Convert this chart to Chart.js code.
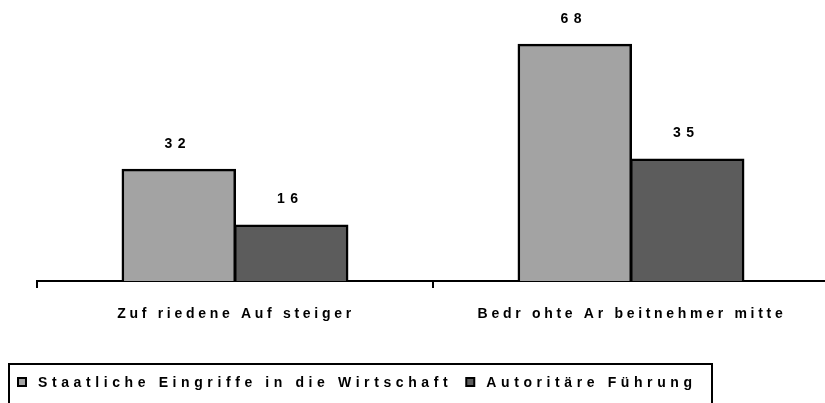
<!DOCTYPE html>
<html>
<head>
<meta charset="utf-8">
<script src="https://cdn.jsdelivr.net/npm/chart.js@4.4.1/dist/chart.umd.min.js"></script>
<style>
  html, body { margin: 0; padding: 0; background: #fff; overflow: hidden; }
  #wrap { position: relative; width: 833px; height: 403px; }
</style>
</head>
<body>
<div id="wrap"><canvas id="c"></canvas></div>
<script>
const categories = ["Zuf riedene Auf steiger", "Bedr ohte Ar beitnehmer mitte"];
const seriesNames = ["Staatliche Eingriffe in die Wirtschaft", "Autoritäre Führung"];
const seriesStaat = [32, 68];
const seriesAutor = [16, 35];
const seriesColors = ["#a3a3a3", "#5c5c5c"];

const FONT = '"Liberation Sans", Arial, sans-serif';

const textPlugin = {
  id: 'textPlugin',
  afterDraw(chart) {
    const ctx = chart.ctx;
    const xs = chart.scales.x;
    ctx.save();
    ctx.fillStyle = '#000';
    ctx.textAlign = 'center';
    ctx.textBaseline = 'alphabetic';
    // data labels
    ctx.font = 'bold 14px ' + FONT;
    ctx.letterSpacing = '5.5px';
    chart.data.datasets.forEach((ds, di) => {
      const meta = chart.getDatasetMeta(di);
      meta.data.forEach((bar, i) => {
        ctx.fillText(String(ds.data[i]), bar.x - 1, bar.y - 22);
      });
    });
    // category labels
    ctx.font = 'bold 14px ' + FONT;
    ctx.letterSpacing = '3.7px';
    chart.data.labels.forEach((lab, i) => {
      const x = xs.getPixelForValue(i);
      ctx.fillText(lab, x + 1, 318);
    });
    // legend
    ctx.lineWidth = 2;
    ctx.strokeStyle = '#000';
    ctx.strokeRect(9, 364, 703, 60);
    ctx.font = 'bold 14px ' + FONT;
    ctx.letterSpacing = '4.6px';
    ctx.textAlign = 'left';
    let x = 18;
    chart.data.datasets.forEach((ds, di) => {
      ctx.fillStyle = ds.backgroundColor;
      ctx.fillRect(x, 378, 8, 8);
      ctx.strokeStyle = '#000';
      ctx.lineWidth = 2;
      ctx.strokeRect(x, 378, 8, 8);
      ctx.fillStyle = '#000';
      ctx.fillText(ds.label, x + 20, 387);
      x += 20 + ctx.measureText(ds.label).width + 14;
    });
    ctx.restore();
  }
};

new Chart(document.getElementById('c'), {
  type: 'bar',
  data: {
    labels: categories,
    datasets: [
      { label: seriesNames[0], data: seriesStaat, backgroundColor: seriesColors[0], borderColor: '#000', borderWidth: 2.5, borderSkipped: 'bottom', inflateAmount: 1 },
      { label: seriesNames[1], data: seriesAutor, backgroundColor: seriesColors[1], borderColor: '#000', borderWidth: 2.5, borderSkipped: 'bottom', inflateAmount: 1 }
    ]
  },
  options: {
    responsive: true,
    maintainAspectRatio: false,
    animation: false,
    layout: { padding: { left: 37, right: 4, top: 3, bottom: 0 } },
    datasets: { bar: { categoryPercentage: 0.568, barPercentage: 1.0 } },
    plugins: { legend: { display: false }, tooltip: { enabled: false } },
    scales: {
      y: { display: false, min: 0, max: 80 },
      x: {
        offset: true,
        ticks: { display: false },
        grid: { display: true, offset: true, drawOnChartArea: false, drawTicks: true, tickLength: 7, color: '#000', lineWidth: 2 },
        border: { display: true, color: '#000', width: 2 },
        afterFit(scale) { scale.height = 122; }
      }
    }
  },
  plugins: [textPlugin]
});
</script>
</body>
</html>
